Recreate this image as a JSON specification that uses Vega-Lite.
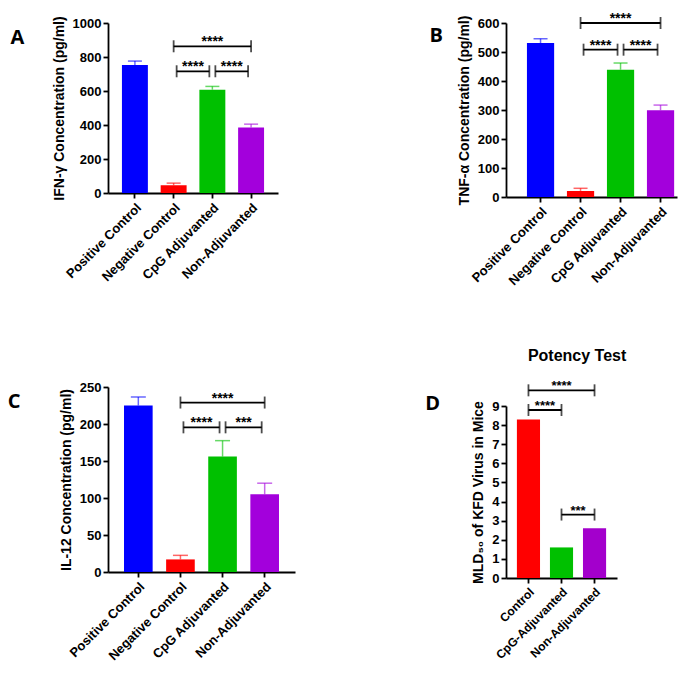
{
  "$schema": "https://vega.github.io/schema/vega-lite/v6.json",
  "background": "white",
  "padding": {"left": 7, "top": 8, "right": 5, "bottom": 5},
  "datasets": {
    "A_bars": [
      {"group": "Positive Control", "value": 753, "upper": 776},
      {"group": "Negative Control", "value": 45, "upper": 58},
      {"group": "CpG Adjuvanted", "value": 608, "upper": 627},
      {"group": "Non-Adjuvanted", "value": 386, "upper": 405}
    ],
    "A_br": [
      {"from": "Negative Control", "to": "Non-Adjuvanted", "y": 863, "level": "top", "label": "****"},
      {"from": "Negative Control", "to": "CpG Adjuvanted", "y": 716, "level": "low", "label": "****"},
      {"from": "CpG Adjuvanted", "to": "Non-Adjuvanted", "y": 716, "level": "low", "label": "****"}
    ],
    "B_bars": [
      {"group": "Positive Control", "value": 531, "upper": 546},
      {"group": "Negative Control", "value": 21, "upper": 30},
      {"group": "CpG Adjuvanted", "value": 439, "upper": 462},
      {"group": "Non-Adjuvanted", "value": 299, "upper": 317}
    ],
    "B_br": [
      {"from": "Negative Control", "to": "Non-Adjuvanted", "y": 600, "level": "top", "label": "****"},
      {"from": "Negative Control", "to": "CpG Adjuvanted", "y": 508, "level": "low", "label": "****"},
      {"from": "CpG Adjuvanted", "to": "Non-Adjuvanted", "y": 508, "level": "low", "label": "****"}
    ],
    "C_bars": [
      {"group": "Positive Control", "value": 225, "upper": 236.5},
      {"group": "Negative Control", "value": 17, "upper": 22.5},
      {"group": "CpG Adjuvanted", "value": 156, "upper": 177.5},
      {"group": "Non-Adjuvanted", "value": 105, "upper": 120}
    ],
    "C_br": [
      {"from": "Negative Control", "to": "Non-Adjuvanted", "y": 229, "level": "top", "label": "****"},
      {"from": "Negative Control", "to": "CpG Adjuvanted", "y": 195.5, "level": "low", "label": "****"},
      {"from": "CpG Adjuvanted", "to": "Non-Adjuvanted", "y": 195.5, "level": "low", "label": "***"}
    ],
    "D_bars": [
      {"group": "Control", "value": 8.3},
      {"group": "CpG-Adjuvanted", "value": 1.6},
      {"group": "Non-Adjuvanted", "value": 2.6}
    ],
    "D_br": [
      {"from": "Control", "to": "Non-Adjuvanted", "y": 9.82, "level": "top", "label": "****"},
      {"from": "Control", "to": "CpG-Adjuvanted", "y": 8.79, "level": "low", "label": "****"},
      {"from": "CpG-Adjuvanted", "to": "Non-Adjuvanted", "y": 3.32, "level": "low", "label": "***"}
    ]
  },
  "config": {
    "font": "Liberation Sans",
    "view": {"stroke": null},
    "axis": {
      "grid": false, "domainColor": "#000", "domainWidth": 1.8, "tickColor": "#000", "tickWidth": 1.8, "tickSize": 5,
      "labelColor": "#000", "labelFont": "Liberation Sans", "labelFontSize": 13, "labelFontWeight": "bold", "labelPadding": 2,
      "titleColor": "#000", "titleFont": "Liberation Sans", "titleFontSize": 14, "titleFontWeight": "bold", "titlePadding": 6
    },
    "axisY": {"format": "d"},
    "axisX": {"labelAngle": -45, "labelPadding": 3},
    "title": {"color": "#000", "font": "Open Sans", "fontWeight": "bold", "fontSize": 20}
  },
  "resolve": {"scale": {"color": "independent"}},
  "spacing": 130,
  "hconcat": [
    {
      "spacing": 97,
      "resolve": {"scale": {"color": "independent"}},
      "vconcat": [
        {
          "title": {"text": " ", "fontSize": 7, "offset": 0},
          "vconcat": [
            {
              "width": 170, "height": 170,
              "title": {"text": "A", "orient": "left", "anchor": "end", "angle": 0, "align": "right", "baseline": "top", "offset": 14, "dy": 12},
              "layer": [
                {"data": {"name": "A_bars"}, "mark": {"type": "bar"},
                 "encoding": {
                   "x": {"field": "group", "type": "nominal", "title": null, "scale": {"domain": ["Positive Control", "Negative Control", "CpG Adjuvanted", "Non-Adjuvanted"], "paddingInner": 0.33, "paddingOuter": 0.36}},
                   "y": {"field": "value", "type": "quantitative", "title": "IFN-γ Concentration (pg/ml)", "scale": {"domain": [0, 1000], "nice": false}, "axis": {"values": [0, 200, 400, 600, 800, 1000]}},
                   "color": {"field": "group", "type": "nominal", "legend": null, "scale": {"domain": ["Positive Control", "Negative Control", "CpG Adjuvanted", "Non-Adjuvanted"], "range": ["#0000ff", "#ff0000", "#00c000", "#a300dc"]}}
                 }},
                {"data": {"name": "A_bars"}, "mark": {"type": "rule", "strokeWidth": 1.5, "opacity": 0.6},
                 "encoding": {
                   "x": {"field": "group", "type": "nominal", "title": null},
                   "y": {"field": "value", "type": "quantitative", "title": "IFN-γ Concentration (pg/ml)", "axis": {"values": [0, 200, 400, 600, 800, 1000]}},
                   "y2": {"field": "upper"},
                   "color": {"field": "group", "type": "nominal", "legend": null}
                 }},
                {"data": {"name": "A_bars"}, "mark": {"type": "tick", "orient": "horizontal", "size": 14, "thickness": 1.5, "opacity": 0.6},
                 "encoding": {
                   "x": {"field": "group", "type": "nominal", "title": null},
                   "y": {"field": "upper", "type": "quantitative", "title": "IFN-γ Concentration (pg/ml)", "axis": {"values": [0, 200, 400, 600, 800, 1000]}},
                   "color": {"field": "group", "type": "nominal", "legend": null}
                 }},
                {"data": {"name": "A_br"}, "mark": {"type": "rule", "color": "#000", "strokeWidth": 1.8, "xOffset": {"expr": "datum.level == 'low' ? 3 : 0"}, "x2Offset": {"expr": "datum.level == 'low' ? -3 : 0"}},
                 "encoding": {
                   "x": {"field": "from", "type": "nominal", "title": null},
                   "x2": {"field": "to"},
                   "y": {"field": "y", "type": "quantitative", "title": "IFN-γ Concentration (pg/ml)", "axis": {"values": [0, 200, 400, 600, 800, 1000]}}
                 }},
                {"data": {"name": "A_br"}, "transform": [{"fold": ["from", "to"], "as": ["end", "cat"]}],
                 "mark": {"type": "tick", "orient": "vertical", "color": "#000", "size": 12, "thickness": 1.8, "xOffset": {"expr": "datum.level == 'low' ? (datum.end == 'from' ? 3 : -3) : 0"}},
                 "encoding": {
                   "x": {"field": "cat", "type": "nominal", "title": null},
                   "y": {"field": "y", "type": "quantitative", "title": "IFN-γ Concentration (pg/ml)", "axis": {"values": [0, 200, 400, 600, 800, 1000]}}
                 }},
                {"data": {"name": "A_br"}, "transform": [{"filter": "datum.level == 'top'"}],
                 "mark": {"type": "text", "fontSize": 14, "fontWeight": "bold", "baseline": "alphabetic", "color": "#000"},
                 "encoding": {
                   "x": {"field": "from", "type": "nominal", "title": null, "bandPosition": 1.993},
                   "y": {"field": "y", "type": "quantitative", "title": "IFN-γ Concentration (pg/ml)", "axis": {"values": [0, 200, 400, 600, 800, 1000]}},
                   "text": {"field": "label"}
                 }},
                {"data": {"name": "A_br"}, "transform": [{"filter": "datum.level == 'low'"}],
                 "mark": {"type": "text", "fontSize": 14, "fontWeight": "bold", "baseline": "alphabetic", "color": "#000"},
                 "encoding": {
                   "x": {"field": "from", "type": "nominal", "title": null, "bandPosition": 1.246},
                   "y": {"field": "y", "type": "quantitative", "title": "IFN-γ Concentration (pg/ml)", "axis": {"values": [0, 200, 400, 600, 800, 1000]}},
                   "text": {"field": "label"}
                 }}
              ]
            }
          ]
        },
        {
          "width": 187, "height": 185,
          "title": {"text": "C", "orient": "left", "anchor": "end", "angle": 0, "align": "right", "baseline": "top", "offset": 26, "dy": 11},
          "layer": [
            {"data": {"name": "C_bars"}, "mark": {"type": "bar"},
             "encoding": {
               "x": {"field": "group", "type": "nominal", "title": null, "scale": {"domain": ["Positive Control", "Negative Control", "CpG Adjuvanted", "Non-Adjuvanted"], "paddingInner": 0.32, "paddingOuter": 0.38}},
               "y": {"field": "value", "type": "quantitative", "title": "IL-12 Concentration (pg/ml)", "scale": {"domain": [0, 250], "nice": false}, "axis": {"values": [0, 50, 100, 150, 200, 250]}},
               "color": {"field": "group", "type": "nominal", "legend": null, "scale": {"domain": ["Positive Control", "Negative Control", "CpG Adjuvanted", "Non-Adjuvanted"], "range": ["#0000ff", "#ff0000", "#00c000", "#a300dc"]}}
             }},
            {"data": {"name": "C_bars"}, "mark": {"type": "rule", "strokeWidth": 1.5, "opacity": 0.6},
             "encoding": {
               "x": {"field": "group", "type": "nominal", "title": null},
               "y": {"field": "value", "type": "quantitative", "title": "IL-12 Concentration (pg/ml)", "axis": {"values": [0, 50, 100, 150, 200, 250]}},
               "y2": {"field": "upper"},
               "color": {"field": "group", "type": "nominal", "legend": null}
             }},
            {"data": {"name": "C_bars"}, "mark": {"type": "tick", "orient": "horizontal", "size": 15, "thickness": 1.5, "opacity": 0.6},
             "encoding": {
               "x": {"field": "group", "type": "nominal", "title": null},
               "y": {"field": "upper", "type": "quantitative", "title": "IL-12 Concentration (pg/ml)", "axis": {"values": [0, 50, 100, 150, 200, 250]}},
               "color": {"field": "group", "type": "nominal", "legend": null}
             }},
            {"data": {"name": "C_br"}, "mark": {"type": "rule", "color": "#000", "strokeWidth": 1.8, "xOffset": {"expr": "datum.level == 'low' ? 3 : 0"}, "x2Offset": {"expr": "datum.level == 'low' ? -3 : 0"}},
             "encoding": {
               "x": {"field": "from", "type": "nominal", "title": null},
               "x2": {"field": "to"},
               "y": {"field": "y", "type": "quantitative", "title": "IL-12 Concentration (pg/ml)", "axis": {"values": [0, 50, 100, 150, 200, 250]}}
             }},
            {"data": {"name": "C_br"}, "transform": [{"fold": ["from", "to"], "as": ["end", "cat"]}],
             "mark": {"type": "tick", "orient": "vertical", "color": "#000", "size": 12, "thickness": 1.8, "xOffset": {"expr": "datum.level == 'low' ? (datum.end == 'from' ? 3 : -3) : 0"}},
             "encoding": {
               "x": {"field": "cat", "type": "nominal", "title": null},
               "y": {"field": "y", "type": "quantitative", "title": "IL-12 Concentration (pg/ml)", "axis": {"values": [0, 50, 100, 150, 200, 250]}}
             }},
            {"data": {"name": "C_br"}, "transform": [{"filter": "datum.level == 'top'"}],
             "mark": {"type": "text", "fontSize": 14, "fontWeight": "bold", "baseline": "alphabetic", "color": "#000"},
             "encoding": {
               "x": {"field": "from", "type": "nominal", "title": null, "bandPosition": 1.971},
               "y": {"field": "y", "type": "quantitative", "title": "IL-12 Concentration (pg/ml)", "axis": {"values": [0, 50, 100, 150, 200, 250]}},
               "text": {"field": "label"}
             }},
            {"data": {"name": "C_br"}, "transform": [{"filter": "datum.level == 'low'"}],
             "mark": {"type": "text", "fontSize": 14, "fontWeight": "bold", "baseline": "alphabetic", "color": "#000"},
             "encoding": {
               "x": {"field": "from", "type": "nominal", "title": null, "bandPosition": 1.235},
               "y": {"field": "y", "type": "quantitative", "title": "IL-12 Concentration (pg/ml)", "axis": {"values": [0, 50, 100, 150, 200, 250]}},
               "text": {"field": "label"}
             }}
          ]
        }
      ]
    },
    {
      "spacing": 60,
      "resolve": {"scale": {"color": "independent"}},
      "vconcat": [
        {
          "width": 171, "height": 174,
          "title": {"text": "B", "orient": "left", "anchor": "end", "angle": 0, "align": "right", "baseline": "top", "offset": 1, "dy": 14},
          "layer": [
            {"data": {"name": "B_bars"}, "mark": {"type": "bar"},
             "encoding": {
               "x": {"field": "group", "type": "nominal", "title": null, "scale": {"domain": ["Positive Control", "Negative Control", "CpG Adjuvanted", "Non-Adjuvanted"], "paddingInner": 0.32, "paddingOuter": 0.2975, "align": 0.88}},
               "y": {"field": "value", "type": "quantitative", "title": "TNF-α Concentration (pg/ml)", "scale": {"domain": [0, 600], "nice": false}, "axis": {"values": [0, 100, 200, 300, 400, 500, 600]}},
               "color": {"field": "group", "type": "nominal", "legend": null, "scale": {"domain": ["Positive Control", "Negative Control", "CpG Adjuvanted", "Non-Adjuvanted"], "range": ["#0000ff", "#ff0000", "#00c000", "#a300dc"]}}
             }},
            {"data": {"name": "B_bars"}, "mark": {"type": "rule", "strokeWidth": 1.5, "opacity": 0.6},
             "encoding": {
               "x": {"field": "group", "type": "nominal", "title": null},
               "y": {"field": "value", "type": "quantitative", "title": "TNF-α Concentration (pg/ml)", "axis": {"values": [0, 100, 200, 300, 400, 500, 600]}},
               "y2": {"field": "upper"},
               "color": {"field": "group", "type": "nominal", "legend": null}
             }},
            {"data": {"name": "B_bars"}, "mark": {"type": "tick", "orient": "horizontal", "size": 14, "thickness": 1.5, "opacity": 0.6},
             "encoding": {
               "x": {"field": "group", "type": "nominal", "title": null},
               "y": {"field": "upper", "type": "quantitative", "title": "TNF-α Concentration (pg/ml)", "axis": {"values": [0, 100, 200, 300, 400, 500, 600]}},
               "color": {"field": "group", "type": "nominal", "legend": null}
             }},
            {"data": {"name": "B_br"}, "mark": {"type": "rule", "color": "#000", "strokeWidth": 1.8, "xOffset": {"expr": "datum.level == 'low' ? 3 : 0"}, "x2Offset": {"expr": "datum.level == 'low' ? -3 : 0"}},
             "encoding": {
               "x": {"field": "from", "type": "nominal", "title": null},
               "x2": {"field": "to"},
               "y": {"field": "y", "type": "quantitative", "title": "TNF-α Concentration (pg/ml)", "axis": {"values": [0, 100, 200, 300, 400, 500, 600]}}
             }},
            {"data": {"name": "B_br"}, "transform": [{"fold": ["from", "to"], "as": ["end", "cat"]}],
             "mark": {"type": "tick", "orient": "vertical", "color": "#000", "size": 12, "thickness": 1.8, "xOffset": {"expr": "datum.level == 'low' ? (datum.end == 'from' ? 3 : -3) : 0"}},
             "encoding": {
               "x": {"field": "cat", "type": "nominal", "title": null},
               "y": {"field": "y", "type": "quantitative", "title": "TNF-α Concentration (pg/ml)", "axis": {"values": [0, 100, 200, 300, 400, 500, 600]}}
             }},
            {"data": {"name": "B_br"}, "transform": [{"filter": "datum.level == 'top'"}],
             "mark": {"type": "text", "fontSize": 14, "fontWeight": "bold", "baseline": "alphabetic", "color": "#000"},
             "encoding": {
               "x": {"field": "from", "type": "nominal", "title": null, "bandPosition": 1.971},
               "y": {"field": "y", "type": "quantitative", "title": "TNF-α Concentration (pg/ml)", "axis": {"values": [0, 100, 200, 300, 400, 500, 600]}},
               "text": {"field": "label"}
             }},
            {"data": {"name": "B_br"}, "transform": [{"filter": "datum.level == 'low'"}],
             "mark": {"type": "text", "fontSize": 14, "fontWeight": "bold", "baseline": "alphabetic", "color": "#000"},
             "encoding": {
               "x": {"field": "from", "type": "nominal", "title": null, "bandPosition": 1.235},
               "y": {"field": "y", "type": "quantitative", "title": "TNF-α Concentration (pg/ml)", "axis": {"values": [0, 100, 200, 300, 400, 500, 600]}},
               "text": {"field": "label"}
             }}
          ]
        },
        {
          "title": {"text": "Potency  Test", "anchor": "middle", "frame": "bounds", "dx": 56, "offset": 16, "font": "Liberation Sans", "fontSize": 16},
          "vconcat": [
            {
              "width": 111, "height": 172,
              "title": {"text": "D", "orient": "left", "anchor": "end", "angle": 0, "align": "right", "baseline": "top", "offset": 17, "dy": 14},
              "layer": [
                {"data": {"name": "D_bars"}, "mark": {"type": "bar"},
                 "encoding": {
                   "x": {"field": "group", "type": "nominal", "title": null, "scale": {"domain": ["Control", "CpG-Adjuvanted", "Non-Adjuvanted"], "paddingInner": 0.3, "paddingOuter": 0.33}, "axis": {"labelFontSize": 12}},
                   "y": {"field": "value", "type": "quantitative", "title": "MLD₅₀ of KFD Virus in Mice", "scale": {"domain": [0, 9], "nice": false}, "axis": {"values": [0, 1, 2, 3, 4, 5, 6, 7, 8, 9]}},
                   "color": {"field": "group", "type": "nominal", "legend": null, "scale": {"domain": ["Control", "CpG-Adjuvanted", "Non-Adjuvanted"], "range": ["#ff0000", "#00c000", "#a300cc"]}}
                 }},
                {"data": {"name": "D_br"}, "mark": {"type": "rule", "color": "#000", "strokeWidth": 1.8},
                 "encoding": {
                   "x": {"field": "from", "type": "nominal", "title": null, "axis": {"labelFontSize": 12}},
                   "x2": {"field": "to"},
                   "y": {"field": "y", "type": "quantitative", "title": "MLD₅₀ of KFD Virus in Mice", "axis": {"values": [0, 1, 2, 3, 4, 5, 6, 7, 8, 9]}}
                 }},
                {"data": {"name": "D_br"}, "transform": [{"fold": ["from", "to"], "as": ["end", "cat"]}],
                 "mark": {"type": "tick", "orient": "vertical", "color": "#000", "size": 12, "thickness": 1.8},
                 "encoding": {
                   "x": {"field": "cat", "type": "nominal", "title": null, "axis": {"labelFontSize": 12}},
                   "y": {"field": "y", "type": "quantitative", "title": "MLD₅₀ of KFD Virus in Mice", "axis": {"values": [0, 1, 2, 3, 4, 5, 6, 7, 8, 9]}}
                 }},
                {"data": {"name": "D_br"}, "transform": [{"filter": "datum.level == 'top'"}],
                 "mark": {"type": "text", "fontSize": 13, "fontWeight": "bold", "baseline": "alphabetic", "color": "#000"},
                 "encoding": {
                   "x": {"field": "from", "type": "nominal", "title": null, "bandPosition": 1.929, "axis": {"labelFontSize": 12}},
                   "y": {"field": "y", "type": "quantitative", "title": "MLD₅₀ of KFD Virus in Mice", "axis": {"values": [0, 1, 2, 3, 4, 5, 6, 7, 8, 9]}},
                   "text": {"field": "label"}
                 }},
                {"data": {"name": "D_br"}, "transform": [{"filter": "datum.level == 'low'"}],
                 "mark": {"type": "text", "fontSize": 13, "fontWeight": "bold", "baseline": "alphabetic", "color": "#000"},
                 "encoding": {
                   "x": {"field": "from", "type": "nominal", "title": null, "bandPosition": 1.214, "axis": {"labelFontSize": 12}},
                   "y": {"field": "y", "type": "quantitative", "title": "MLD₅₀ of KFD Virus in Mice", "axis": {"values": [0, 1, 2, 3, 4, 5, 6, 7, 8, 9]}},
                   "text": {"field": "label"}
                 }}
              ]
            }
          ]
        }
      ]
    }
  ]
}
